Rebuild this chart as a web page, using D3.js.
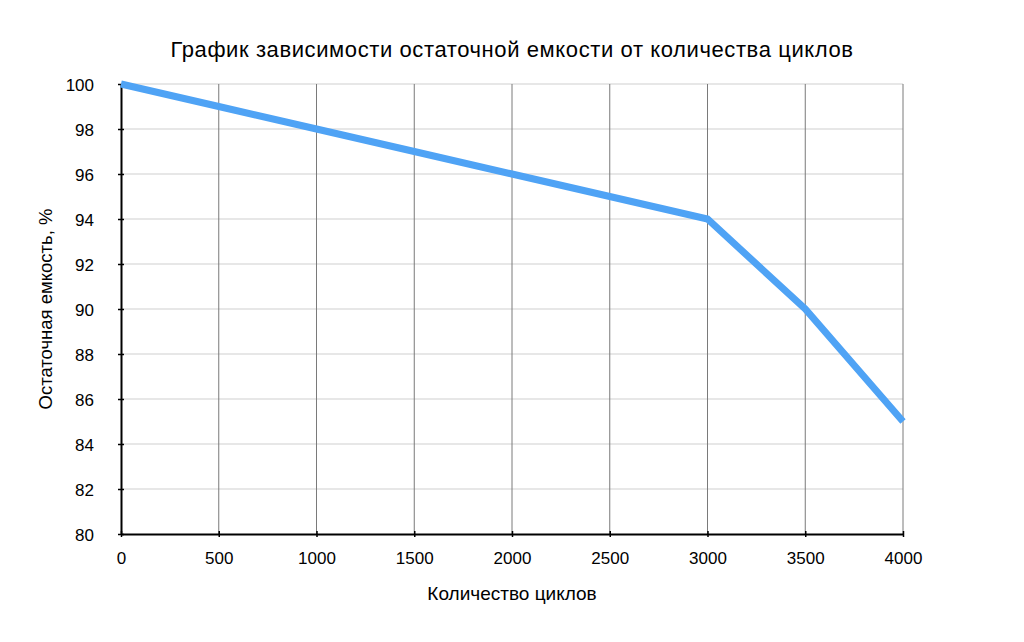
<!DOCTYPE html>
<html><head><meta charset="utf-8">
<script src="https://cdn.jsdelivr.net/npm/d3@7"></script>
<style>body{margin:0;background:#fff}svg{display:block}text{font-family:"Liberation Sans",Arial,sans-serif;fill:#000}</style>
</head><body><svg id="c" width="1024" height="642"></svg>
<script>
const cycles = [0, 500, 1000, 1500, 2000, 2500, 3000, 3500, 4000];
const capacity = [100, 99, 98, 97, 96, 95, 94, 90, 85];
const yTicks = [80, 82, 84, 86, 88, 90, 92, 94, 96, 98, 100];
const title = "График зависимости остаточной емкости от количества циклов";
const xLabel = "Количество циклов";
const yLabel = "Остаточная емкость, %";

const svg = d3.select("#c");
const L = 121, R = 903, T = 84, B = 534;
const FONT = '"Liberation Sans",Arial,sans-serif';
const x = d3.scaleLinear().domain([0, 4000]).range([L, R]);
const y = d3.scaleLinear().domain([80, 100]).range([B, T]);

// horizontal grid
svg.append("g").selectAll("line").data(yTicks.filter(d => d !== 80)).join("line")
  .attr("x1", L).attr("x2", R).attr("y1", d => y(d)).attr("y2", d => y(d))
  .attr("stroke", "#cfcfcf").attr("stroke-width", 1);
// vertical grid
svg.append("g").selectAll("line").data(cycles.filter(d => d !== 0)).join("line")
  .attr("x1", d => x(d)).attr("x2", d => x(d)).attr("y1", T).attr("y2", B)
  .attr("stroke", "#7a7a7a").attr("stroke-width", 1);

// axes
const xAxis = d3.axisBottom(x).tickValues(cycles).tickSize(0).tickPadding(18).tickFormat(d3.format("d"));
const gx = svg.append("g").attr("transform", `translate(0,${B})`).call(xAxis);
gx.select(".domain").attr("stroke", "#000").attr("stroke-width", 2);
gx.selectAll("text").attr("font-size", 17).attr("font-family", FONT);
gx.selectAll(".tick").append("line").attr("y1", -3).attr("y2", 3).attr("stroke", "#000").attr("stroke-width", 1.5);

const yAxis = d3.axisLeft(y).tickValues(yTicks).tickSize(0).tickPadding(27);
const gy = svg.append("g").attr("transform", `translate(${L},0)`).call(yAxis);
gy.select(".domain").attr("stroke", "#000").attr("stroke-width", 2);
gy.selectAll("text").attr("font-size", 17).attr("font-family", FONT).attr("dy", "0.38em");
gy.selectAll(".tick").append("line").attr("x1", -3).attr("x2", 3).attr("stroke", "#000").attr("stroke-width", 1.5);

// line
const line = d3.line().x((d, i) => x(cycles[i])).y(d => y(d));
svg.append("path").datum(capacity).attr("d", line)
  .attr("fill", "none").attr("stroke", "#4fa3f5").attr("stroke-width", 7).attr("stroke-linejoin", "miter");

svg.append("text").attr("x", 512).attr("y", 56.5).attr("text-anchor", "middle").attr("font-size", 22)
  .attr("letter-spacing", "0.6px").text(title);
svg.append("text").attr("x", 512).attr("y", 600).attr("text-anchor", "middle").attr("font-size", 19).text(xLabel);
svg.append("text").attr("transform", `translate(52,${(T + B) / 2}) rotate(-90)`).attr("text-anchor", "middle").attr("font-size", 18.5).text(yLabel);
</script></body></html>
